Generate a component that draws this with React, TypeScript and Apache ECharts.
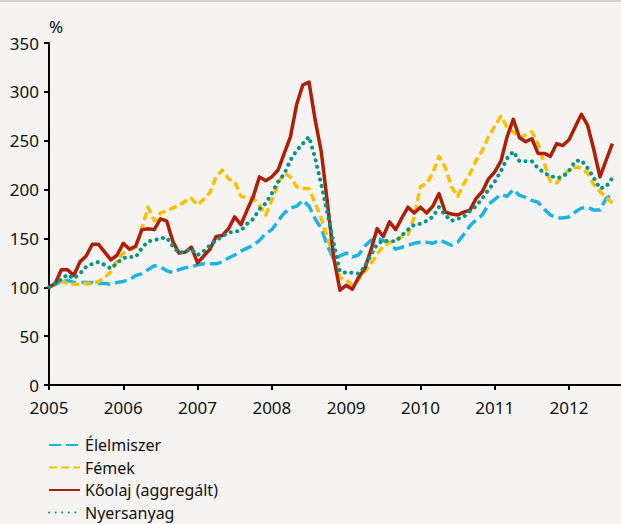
import React, { useEffect, useRef } from "react";
import * as echarts from "echarts";

const yearLabels = ["2005", "2006", "2007", "2008", "2009", "2010", "2011", "2012"];
const seriesNames = ["Élelmiszer", "Fémek", "Kőolaj (aggregált)", "Nyersanyag"];

// monthly index values, Jan 2005 = 100, Jan 2005 .. Aug 2012
const elelmiszer = [
  100, 103, 106, 107, 105, 105, 105, 105, 104, 104, 103, 105,
  106, 108, 112, 114, 118, 122, 121, 117, 115, 118, 120, 121,
  123, 124, 124, 124, 126, 130, 133, 137, 140, 143, 148, 155,
  159, 168, 176, 181, 183, 189, 183, 170, 160, 142, 129, 132,
  135, 131, 133, 142, 148, 150, 148, 145, 139, 141, 143, 145,
  146, 146, 145, 148, 146, 143, 146, 154, 163, 169, 174, 185,
  190, 195, 193, 200, 194, 192, 189, 187, 180, 174, 171, 171,
  172, 177, 181, 182, 179, 179, 191, 195,
];
const femek = [
  100, 103, 106, 104, 103, 103, 104, 104, 106, 110, 116, 127,
  135, 138, 141, 160, 182, 168, 176, 178, 181, 184, 188, 191,
  184, 190, 197, 213, 220, 211, 208, 193, 192, 191, 184, 174,
  189, 206, 217, 213, 203, 201, 201, 186, 170, 150, 131, 110,
  108, 102, 108, 116, 124, 134, 142, 146, 148, 152, 154, 172,
  203, 206, 217, 234, 223, 203, 193, 206, 216, 230, 240, 254,
  265, 275, 264, 259, 253, 256, 259, 247, 227, 208, 207, 214,
  220, 223, 222, 217, 205, 198, 192, 186,
];
const koolaj = [
  100, 104, 118, 118, 112, 126, 132, 144, 144, 136, 128, 133,
  145, 139, 142, 159, 160, 159, 170, 168, 147, 135, 136, 141,
  125, 132, 139, 152, 153, 160, 172, 164, 179, 193, 213, 209,
  213, 220, 237, 254, 287, 307, 310, 271, 238, 185, 130, 97,
  102, 98, 110, 119, 138, 160, 152, 167, 159, 171, 182, 176,
  182, 176, 183, 196, 177, 175, 174, 177, 179, 191, 198, 211,
  218, 229, 254, 272, 253, 249, 252, 237, 237, 234, 247, 245,
  251, 264, 277, 266, 241, 213, 230, 247,
];
const nyersanyag = [
  100, 104, 108, 113, 109, 114, 121, 124, 126, 123, 119, 125,
  130, 131, 131, 140, 147, 148, 150, 151, 142, 135, 137, 139,
  133, 137, 143, 148, 152, 156, 157, 158, 165, 170, 180, 186,
  196, 208, 216, 230, 240, 247, 254, 232, 205, 175, 145, 116,
  115, 115, 114, 121, 133, 144, 148, 147, 147, 153, 159, 164,
  165, 168, 172, 182, 174, 168, 170, 172, 178, 183, 191, 200,
  208, 219, 232, 239, 229, 229, 229, 222, 217, 214, 212, 213,
  219, 229, 230, 222, 212, 201, 203, 212,
];

const colors = ["#1cb4e6", "#fdbf00", "#b01e04", "#00958a"];
const FONT = "'Noto Sans', 'Open Sans', sans-serif";

const toPoints = (arr: number[]) => arr.map((v, i) => [i, v]);

export default function App() {
  const ref = useRef<HTMLDivElement>(null);
  useEffect(() => {
    if (!ref.current) return;
    const chart = echarts.init(ref.current, undefined, { renderer: "svg" });
    const lineSeries = (name: string, data: number[], color: string, dash: any, cap: string, width: number, z: number) => ({
      name,
      type: "line",
      data: toPoints(data),
      symbol: "none",
      showSymbol: false,
      z,
      itemStyle: { color },
      lineStyle: { color, width, type: dash, cap, join: "round" },
    });
    chart.setOption({
      animation: false,
      backgroundColor: "#f5f4f2",
      color: colors,
      graphic: [
        { type: "rect", left: 0, top: 0, shape: { width: 621, height: 2 }, style: { fill: "#d8d2cc" } },
        { type: "text", left: 49, top: 18, style: { text: "%", font: `17px ${FONT}`, fill: "#111" } },
      ],
      grid: { left: 49, right: -4, top: 43, bottom: 139, containLabel: false },
      xAxis: {
        type: "value",
        min: 0,
        max: 92.4,
        interval: 12,
        splitLine: { show: false },
        axisLine: { show: true, lineStyle: { color: "#000", width: 2 } },
        axisTick: { show: true, inside: false, length: 5, lineStyle: { color: "#000", width: 2 } },
        axisLabel: {
          color: "#111",
          fontSize: 17,
          lineHeight: 14,
          fontFamily: FONT,
          margin: 15,
          showMaxLabel: false,
          formatter: (v: number) => {
            const k = Math.round(v / 12);
            return Math.abs(v - k * 12) < 1e-6 && yearLabels[k] ? yearLabels[k] : "";
          },
        },
      },
      yAxis: {
        type: "value",
        min: 0,
        max: 350,
        interval: 50,
        splitLine: { show: false },
        axisLine: { show: true, lineStyle: { color: "#000", width: 2 } },
        axisTick: { show: true, inside: false, length: 5, lineStyle: { color: "#000", width: 2 } },
        axisLabel: { color: "#111", fontSize: 17, lineHeight: 14, fontFamily: FONT, margin: 10 },
      },
      legend: {
        orient: "vertical",
        left: 48,
        top: 437,
        height: 110,
        itemWidth: 31,
        itemHeight: 10,
        itemGap: 6.5,
        padding: 0,
        data: seriesNames,
        itemStyle: { opacity: 0 },
        textStyle: { fontSize: 16, fontFamily: FONT, color: "#111", lineHeight: 16 },
      },
      series: [
        lineSeries(seriesNames[0], elelmiszer, colors[0], [12, 5], "butt", 3.5, 2),
        lineSeries(seriesNames[1], femek, colors[1], [8, 4], "butt", 3.5, 3),
        lineSeries(seriesNames[2], koolaj, colors[2], "solid", "butt", 3.5, 4),
        lineSeries(seriesNames[3], nyersanyag, colors[3], [0.1, 6.5], "round", 4, 5),
      ],
    });
    return () => chart.dispose();
  }, []);
  return (
    <div
      ref={ref}
      style={{ position: "absolute", left: 0, top: 0, width: 621, height: 524 }}
    />
  );
}
